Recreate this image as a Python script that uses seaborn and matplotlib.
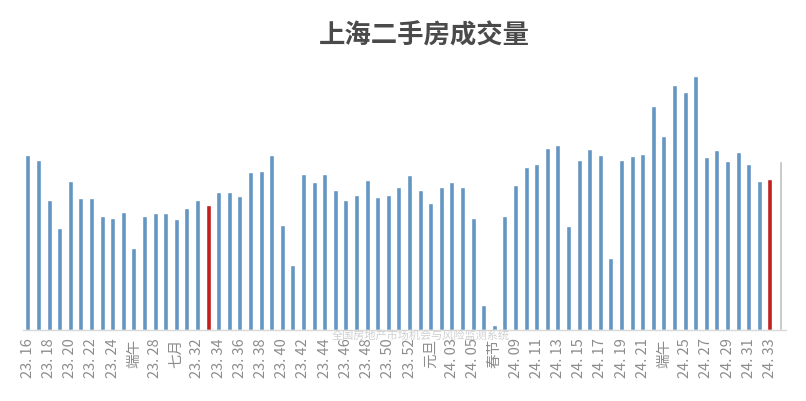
import matplotlib
matplotlib.use("Agg")
import matplotlib.pyplot as plt
import seaborn as sns
import pandas as pd

# --- Data (relative units) ---
weeks_2023 = [f"23. {w}" for w in range(16, 54)]
weeks_2024 = [f"24. {w:02d}" for w in range(1, 35)]
weeks = weeks_2023 + weeks_2024

# holiday names replace some week labels
holiday_labels = {"23. 26": "端午", "23. 30": "七月", "24. 01": "元旦",
                  "24. 07": "春节", "24. 23": "端午"}

volume = [175, 170, 130, 102, 149, 132, 132, 114, 112, 118,
          82, 114, 117, 117, 111, 122, 130, 125, 138, 138,
          134, 158, 159, 175, 105, 65, 156, 148, 156, 140,
          130, 135, 150, 133, 135, 143, 155, 140, 127, 143,
          148, 143, 112, 25, 5, 114, 145, 163, 166, 182,
          185, 104, 170, 181, 175, 72, 170, 174, 176, 224,
          194, 245, 238, 254, 173, 180, 169, 178, 166, 149,
          151, 169]

highlight_weeks = ["23. 33", "24. 33"]
partial_week = "24. 34"

blue = "#6396C3"
red = "#C0201E"
grey = "#BFBFBF"

df = pd.DataFrame({"week": weeks, "volume": volume})
colors = {w: (red if w in highlight_weeks else grey if w == partial_week else blue) for w in weeks}

# --- Plot ---
sns.set_style("white")
plt.rcParams['font.family'] = ['Noto Sans CJK SC', 'DejaVu Sans']

fig = plt.figure(figsize=(8.06, 4.01), dpi=100)
ax = fig.add_axes([0.028, 0.177, 0.947, 0.673])

sns.barplot(data=df, x="week", y="volume", hue="week", palette=colors,
            legend=False, width=0.48, ax=ax, saturation=1)

# the partial week bar is drawn thinner
last = ax.patches[-1]
cx = last.get_x() + last.get_width() / 2
last.set_width(0.3)
last.set_x(cx - 0.15)

ax.set_xlim(-0.5, len(weeks) - 0.5)
ax.set_ylim(0, 270)
ax.set_xlabel("")
ax.set_ylabel("")
ax.set_yticks([])

tick_pos = list(range(0, len(weeks), 2))
ax.set_xticks(tick_pos)
ax.set_xticklabels([holiday_labels.get(weeks[i], weeks[i]) for i in tick_pos],
                   rotation=90, fontsize=10.5, color="#8C8C8C")
ax.tick_params(axis="x", length=0, pad=6)

for s in ["top", "right", "left"]:
    ax.spines[s].set_visible(False)
ax.spines["bottom"].set_color("#D9D9D9")
ax.spines["bottom"].set_linewidth(1)

fig.text(0.526, 0.91, "上海二手房成交量", ha="center", va="center",
         fontsize=19, fontweight="bold", color="#4A4A4A")
fig.text(0.522, 0.163, "全国房地产市场机会与风险监测系统", ha="center", va="center",
         fontsize=8, color="#D0D0D0")

fig.savefig("out.png", dpi=100)
